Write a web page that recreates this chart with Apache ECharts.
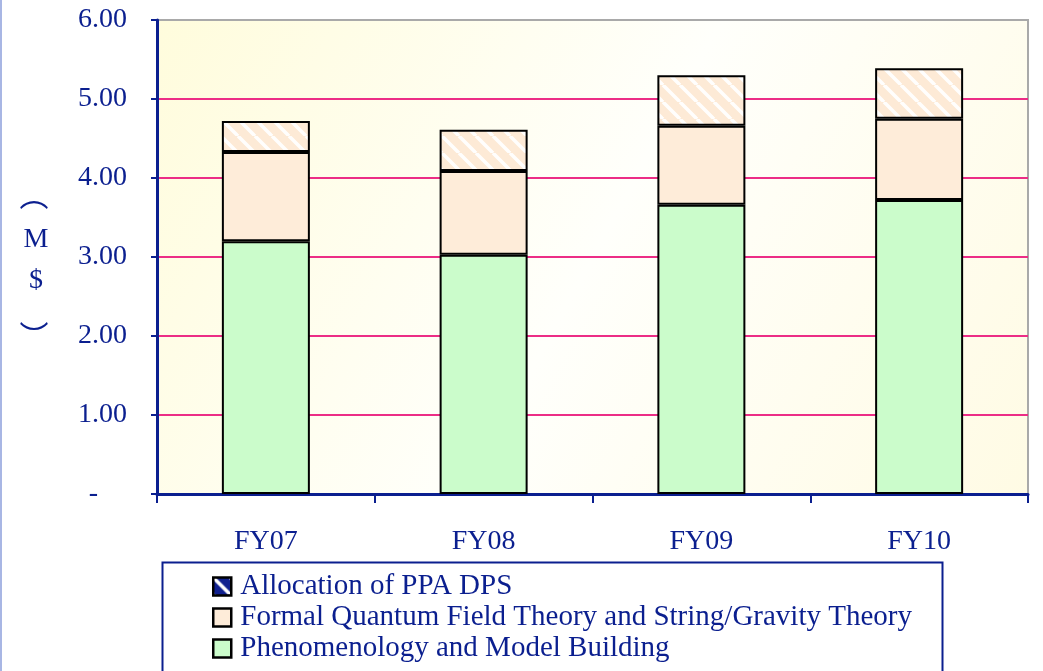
<!DOCTYPE html>
<html>
<head>
<meta charset="utf-8">
<script src="https://cdn.jsdelivr.net/npm/echarts@6/dist/echarts.min.js"></script>
<style>
  html, body { margin: 0; padding: 0; background: #fff; }
  #main { width: 1043px; height: 671px; }
</style>
</head>
<body>
<div id="main"></div>
<script>
var categories = ['FY07', 'FY08', 'FY09', 'FY10'];
var phenomenology = [3.20, 3.03, 3.66, 3.72];
var formalTheory = [1.13, 1.06, 1.00, 1.03];
var allocationDps = [0.39, 0.52, 0.64, 0.64];
var yTickLabels = ['-', '1.00', '2.00', '3.00', '4.00', '5.00', '6.00'];

var navy = '#0b1f8f';
var serif = '"Liberation Serif", "Times New Roman", serif';
var cjk = '"Noto Sans CJK SC", sans-serif';

// hatched fill: peach with white diagonal stripes
function makeHatch(bg, stripe) {
    var c = document.createElement('canvas');
    c.width = 17; c.height = 17;
    var ctx = c.getContext('2d');
    ctx.fillStyle = bg;
    ctx.fillRect(0, 0, 17, 17);
    ctx.strokeStyle = stripe;
    ctx.lineWidth = 3.5;
    [-17, 0, 17].forEach(function (o) {
        ctx.beginPath();
        ctx.moveTo(o, 0);
        ctx.lineTo(o + 17, 17);
        ctx.stroke();
    });
    return c;
}
var hatch = makeHatch('#fdead6', 'rgba(255,255,255,0.95)');
var hatchLegend = makeHatch('#10208f', '#ffffff');

var myChart = echarts.init(document.getElementById('main'), null, { renderer: 'canvas' });
var option = {
    animation: false,
    backgroundColor: '#fff',
    textStyle: { fontFamily: serif },
    grid: {
        left: 157, right: 15, top: 20, bottom: 177,
        show: true,
        borderColor: '#a9a9a9',
        borderWidth: 2,
        backgroundColor: {
            type: 'linear', x: 0, y: 0, x2: 1, y2: 1,
            colorStops: [
                { offset: 0, color: '#fffcdc' },
                { offset: 0.5, color: '#fffffb' },
                { offset: 1, color: '#fffbe4' }
            ]
        }
    },
    legend: {
        orient: 'vertical',
        left: 207, top: 567,
        icon: 'rect',
        itemWidth: 18, itemHeight: 18,
        itemGap: 2,
        itemStyle: { borderColor: '#000', borderWidth: 2.5 },
        textStyle: { fontSize: 29, color: navy, lineHeight: 29, fontFamily: serif, padding: [0, 0, 0, 4] },
        data: [
            { name: 'Allocation of PPA DPS', itemStyle: { color: { image: hatchLegend, repeat: 'repeat' } } },
            { name: 'Formal Quantum Field Theory and String/Gravity Theory' },
            { name: 'Phenomenology and Model Building' }
        ]
    },
    xAxis: {
        type: 'category',
        data: categories,
        axisLine: { lineStyle: { color: navy, width: 3 } },
        axisTick: { show: true, length: 9, lineStyle: { color: navy, width: 2 } },
        axisLabel: { fontSize: 28, color: navy, margin: 34 }
    },
    yAxis: {
        type: 'value',
        min: 0, max: 6, interval: 1,
        axisLine: { show: true, lineStyle: { color: navy, width: 3 } },
        axisTick: { show: true, length: 6, lineStyle: { color: navy, width: 2 } },
        axisLabel: {
            fontSize: 28, color: navy, margin: 30,
            formatter: function (v) {
                var s = yTickLabels[Math.round(v)];
                return v === 0 ? '{d|' + s + '}' : s;
            },
            rich: { d: { fontSize: 28, color: navy, padding: [0, 29, 0, 0] } }
        },
        splitLine: { show: true, showMaxLine: false, lineStyle: { color: '#ec2d86', width: 2 } }
    },
    series: [
        {
            name: 'Phenomenology and Model Building',
            type: 'bar', stack: 'total', barWidth: 88,
            data: phenomenology,
            itemStyle: { color: '#cbfccb', borderColor: '#000', borderWidth: 2 }
        },
        {
            name: 'Formal Quantum Field Theory and String/Gravity Theory',
            type: 'bar', stack: 'total', barWidth: 88,
            data: formalTheory,
            itemStyle: { color: '#feecd9', borderColor: '#000', borderWidth: 2 }
        },
        {
            name: 'Allocation of PPA DPS',
            type: 'bar', stack: 'total', barWidth: 88,
            data: allocationDps,
            itemStyle: { color: { image: hatch, repeat: 'repeat' }, borderColor: '#000', borderWidth: 2 }
        }
    ],
    graphic: [
        // faint left page edge
        { type: 'rect', left: 0, top: 0, shape: { width: 2, height: 671 }, style: { fill: '#a8b6e4' } },
        // legend frame (runs off the bottom)
        { type: 'rect', left: 160, top: 560, shape: { width: 780, height: 130 },
          style: { fill: 'none', stroke: navy, lineWidth: 2 }, z: 10 },
        // vertical axis title ( M $ )
        { type: 'text', x: 34, y: 196,
          style: { text: '︵', fontSize: 29, fill: navy, fontFamily: cjk, align: 'center', verticalAlign: 'middle' } },
        { type: 'text', x: 36, y: 240,
          style: { text: 'M', fontSize: 28, fill: navy, fontFamily: serif, align: 'center', verticalAlign: 'middle' } },
        { type: 'text', x: 36, y: 281,
          style: { text: '$', fontSize: 28, fill: navy, fontFamily: serif, align: 'center', verticalAlign: 'middle' } },
        { type: 'text', x: 34, y: 336,
          style: { text: '︶', fontSize: 29, fill: navy, fontFamily: cjk, align: 'center', verticalAlign: 'middle' } }
    ]
};
myChart.setOption(option);
</script>
</body>
</html>
